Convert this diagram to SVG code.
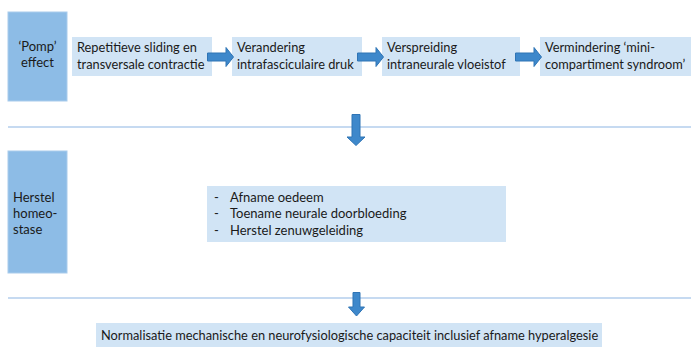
<svg xmlns="http://www.w3.org/2000/svg" width="691" height="347" viewBox="0 0 691 347">
<style>
.dark{fill:#8DBCE6;stroke:#A9CCEC;stroke-width:1}
.light{fill:#D1E4F5}
.t{font-family:Lato,"Liberation Sans",sans-serif;font-size:13px;fill:#1a1a1a}
.s{font-size:12.8px}
.sep{stroke:#8EB6E3;stroke-width:1.2}
.arr{fill:#3E88CB;stroke:#2F74B5;stroke-width:1}
</style>
<rect width="691" height="347" fill="#ffffff"/>
<g id="connectors">
<line class="sep" x1="8" y1="127" x2="691" y2="127"/>
<line class="sep" x1="8" y1="298" x2="691" y2="298"/>
</g>
<g id="pomp"><rect class="dark" x="8" y="12" width="59" height="89"/>
<text class="t" x="37.5" y="51" text-anchor="middle">‘Pomp’</text>
<text class="t" x="37.5" y="67" text-anchor="middle">effect</text></g>
<g id="n1"><rect class="light" x="72" y="37" width="140" height="39"/>
<text class="t s" x="77" y="52">Repetitieve sliding en</text>
<text class="t s" x="77" y="69">transversale contractie</text></g>
<g id="n2"><rect class="light" x="232" y="37" width="130" height="39"/>
<text class="t s" x="237" y="52">Verandering</text>
<text class="t s" x="237" y="69">intrafasciculaire druk</text></g>
<g id="n3"><rect class="light" x="382" y="37" width="138" height="39"/>
<text class="t s" x="387" y="52">Verspreiding</text>
<text class="t s" x="387" y="69">intraneurale vloeistof</text></g>
<g id="n4"><rect class="light" x="540" y="37" width="151" height="39"/>
<text class="t s" x="545" y="52">Vermindering ‘mini-</text>
<text class="t s" x="545" y="69">compartiment syndroom’</text></g>
<g id="arrows">
<path class="arr" d="M207.5,53 H226 V47.5 L233.5,57 L226,66.5 V61 H207.5 Z"/>
<path class="arr" d="M357.5,53 H376 V47.5 L383.5,57 L376,66.5 V61 H357.5 Z"/>
<path class="arr" d="M515.5,53 H534 V47.5 L541.5,57 L534,66.5 V61 H515.5 Z"/>
<path class="arr" d="M352,114.5 H360 V137 H365 L356,145.5 L347,137 H352 Z"/>
<path class="arr" d="M353,292.5 H360 V307 H364.5 L356.5,316 L348.5,307 H353 Z"/>
</g>
<g id="herstel"><rect class="dark" x="8" y="151" width="59" height="122"/>
<text class="t" x="13" y="202">Herstel</text>
<text class="t" x="13" y="218">homeo-</text>
<text class="t" x="13" y="234">stase</text></g>
<g id="bullets"><rect class="light" x="207" y="186" width="299" height="56"/>
<text class="t" x="214" y="202">-</text><text class="t" x="230" y="202">Afname oedeem</text>
<text class="t" x="214" y="218">-</text><text class="t" x="230" y="218">Toename neurale doorbloeding</text>
<text class="t" x="214" y="235">-</text><text class="t" x="230" y="235">Herstel zenuwgeleiding</text></g>
<g id="final"><rect class="light" x="96" y="323" width="506" height="24"/>
<text class="t s" x="101" y="340">Normalisatie mechanische en neurofysiologische capaciteit inclusief afname hyperalgesie</text></g>
</svg>
